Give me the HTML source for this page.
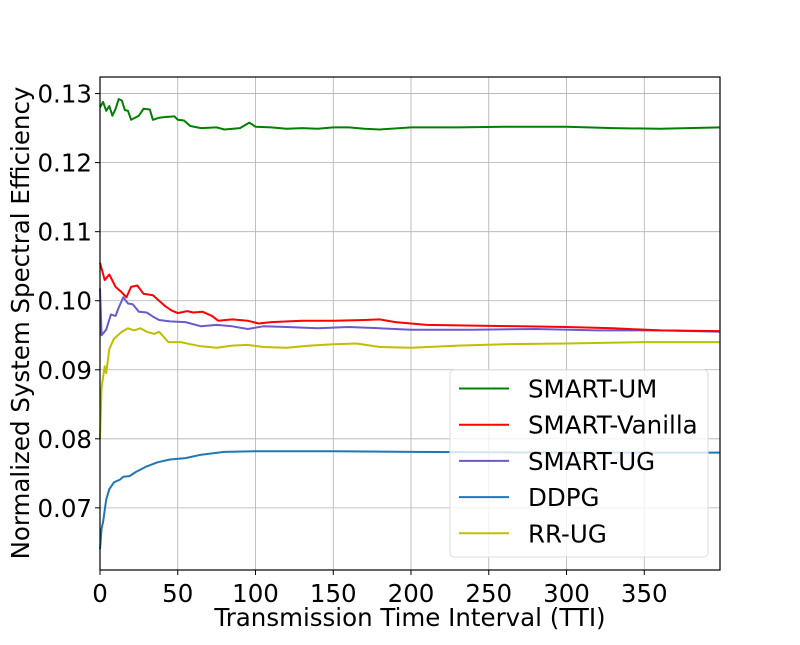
<!DOCTYPE html>
<html><head><meta charset="utf-8"><style>
body{margin:0;background:#fff;width:800px;height:640px;overflow:hidden}
svg text{font-family:"DejaVu Sans","Liberation Sans",sans-serif;fill:#000}
</style></head><body>
<svg id="chart" width="800" height="640" xmlns="http://www.w3.org/2000/svg">
<g id="grid"></g>
<g id="series"></g>
<rect x="100" y="77" width="620" height="493" fill="none" stroke="#000" stroke-width="1.2"/>
<g id="ticks"></g>
<text x="410" y="626" font-size="24.5" text-anchor="middle">Transmission Time Interval (TTI)</text>
<text transform="translate(29,323) rotate(-90)" font-size="24.5" text-anchor="middle">Normalized System Spectral Efficiency</text>
<g id="legend"></g>
</svg>
<script>
const xTicks=[0,50,100,150,200,250,300,350];
const yTicks=[0.07,0.08,0.09,0.10,0.11,0.12,0.13];
const yTickLabels=["0.07","0.08","0.09","0.10","0.11","0.12","0.13"];
const seriesNames=["SMART-UM","SMART-Vanilla","SMART-UG","DDPG","RR-UG"];
const seriesColors=["#008000","#ff0000","#6a5acd","#1f77b4","#bfbf00"];
const umX=[0,2,4,6,8,10,12,14,16,18,20,25,28,32,34,38,42,48,50,54,58,65,75,80,90,96,100,110,120,130,140,150,160,170,180,200,230,260,300,330,360,399];
const umY=[0.1280,0.1288,0.1275,0.1282,0.1268,0.1278,0.1292,0.1290,0.1276,0.1275,0.1262,0.1268,0.1278,0.1277,0.1262,0.1265,0.1266,0.1267,0.1262,0.1261,0.1253,0.1250,0.1251,0.1248,0.1250,0.1258,0.1252,0.1251,0.1249,0.1250,0.1249,0.1251,0.1251,0.1249,0.1248,0.1251,0.1251,0.1252,0.1252,0.1250,0.1249,0.1251];
const vanX=[0,3,6,10,14,17,20,24,28,34,38,42,46,50,56,60,66,72,76,85,95,102,110,130,150,170,180,190,210,240,270,300,330,360,399];
const vanY=[0.1055,0.1030,0.1038,0.1020,0.1012,0.1005,0.1020,0.1022,0.1010,0.1008,0.1000,0.0992,0.0986,0.0982,0.0985,0.0983,0.0984,0.0978,0.0971,0.0973,0.0971,0.0967,0.0969,0.0971,0.0971,0.0972,0.0973,0.0969,0.0965,0.0964,0.0963,0.0962,0.0960,0.0957,0.0956];
const ugX=[0,1,4,7,10,12,15,18,21,25,30,34,38,45,55,65,75,85,95,105,120,140,160,180,200,240,280,320,360,399];
const ugY=[0.1018,0.0950,0.0958,0.0980,0.0978,0.0990,0.1005,0.0996,0.0995,0.0984,0.0983,0.0977,0.0972,0.0970,0.0969,0.0963,0.0965,0.0963,0.0959,0.0963,0.0962,0.0960,0.0962,0.0960,0.0958,0.0958,0.0959,0.0957,0.0957,0.0955];
const ddpgX=[0,1,2,4,6,9,13,15,19,23,30,37,45,55,65,80,100,150,200,300,399];
const ddpgY=[0.0640,0.0670,0.0680,0.0712,0.0727,0.0737,0.0741,0.0745,0.0746,0.0752,0.0760,0.0766,0.0770,0.0772,0.0777,0.0781,0.0782,0.0782,0.0781,0.0780,0.0780];
const rrX=[0,1,3,4,6,9,14,18,22,26,30,35,38,44,52,58,65,75,85,95,105,120,135,150,165,180,200,230,260,300,350,399];
const rrY=[0.0800,0.0875,0.0905,0.0895,0.0930,0.0945,0.0955,0.0960,0.0957,0.0960,0.0955,0.0952,0.0955,0.0940,0.0940,0.0937,0.0934,0.0932,0.0935,0.0936,0.0933,0.0932,0.0935,0.0937,0.0938,0.0933,0.0932,0.0935,0.0937,0.0938,0.0940,0.0940];
const allX=[umX,vanX,ugX,ddpgX,rrX], allY=[umY,vanY,ugY,ddpgY,rrY];
const L=100,R=720,T=77,B=570,XMIN=0,XMAX=398.7,YMIN=0.0610,YMAX=0.1324;
const sx=v=>L+(v-XMIN)/(XMAX-XMIN)*(R-L);
const sy=v=>B-(v-YMIN)/(YMAX-YMIN)*(B-T);
const NS="http://www.w3.org/2000/svg";
const mk=(p,t,a)=>{const e=document.createElementNS(NS,t);for(const k in a)e.setAttribute(k,a[k]);p.appendChild(e);return e;};
const grid=document.getElementById('grid'),ticks=document.getElementById('ticks');
xTicks.forEach(t=>{
  const g=mk(grid,'line',{x1:sx(t),x2:sx(t),y1:T,y2:B,stroke:'#b0b0b0','stroke-width':0.8});
  
  
  const tk=mk(ticks,'line',{x1:sx(t),x2:sx(t),y1:B,y2:B+5,stroke:'#000'});
  
  
  const tx=mk(ticks,'text',{x:sx(t),y:B+32,'font-size':24.5,'text-anchor':'middle'});
  tx.textContent=t;
  
  
});
yTicks.forEach((t,i)=>{
  const g=mk(grid,'line',{x1:L,x2:R,y1:sy(t),y2:sy(t),stroke:'#b0b0b0','stroke-width':0.8});
  
  
  const tk=mk(ticks,'line',{x1:L-5,x2:L,y1:sy(t),y2:sy(t),stroke:'#000'});
  
  
  const tx=mk(ticks,'text',{x:L-8,y:sy(t)+9,'font-size':24.5,'text-anchor':'end'});
  tx.textContent=yTickLabels[i];
  
  
});
const ser=document.getElementById('series');
[3,4,2,1,0].forEach(i=>{
  const d=allX[i].map((x,j)=>(j?'L':'M')+sx(x).toFixed(1)+','+sy(allY[i][j]).toFixed(1)).join('');
  const p=mk(ser,'path',{d:d,fill:'none',stroke:seriesColors[i],'stroke-width':2,'stroke-linejoin':'round'});
  
  
});
const leg=document.getElementById('legend');
const box=mk(leg,'rect',{x:450,y:370,width:258,height:187,rx:4,fill:'#fff','fill-opacity':0.8,stroke:'#ddd'});


seriesNames.forEach((n,i)=>{
  const y=388.5+i*36.2;
  const ln=mk(leg,'line',{x1:459,x2:509,y1:y,y2:y,stroke:seriesColors[i],'stroke-width':2});
  
  
  const t=mk(leg,'text',{x:528,y:y+9,'font-size':24.5});
  t.textContent=n;
  
  
});
</script>
</body></html>
